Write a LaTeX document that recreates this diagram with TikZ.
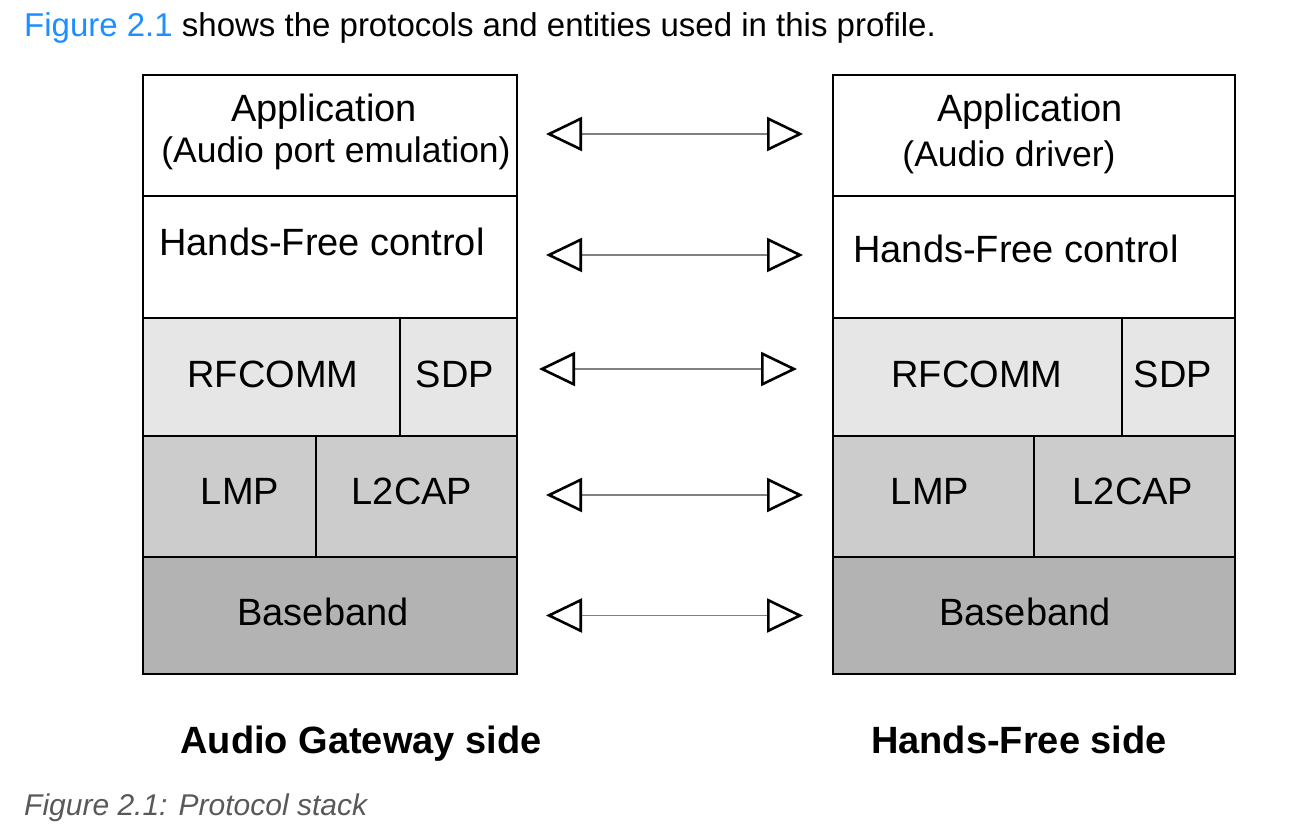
\documentclass[tikz,border=0pt]{standalone}
\usepackage{fontspec}
\setmainfont{Liberation Sans}
\usepackage{xcolor}
\usepackage{tikz}
\usetikzlibrary{arrows.meta,positioning}
\definecolor{rfgray}{HTML}{E6E6E6}
\definecolor{lmpgray}{HTML}{CCCCCC}
\definecolor{bbgray}{HTML}{B3B3B3}
\definecolor{linkblue}{HTML}{1E8FFF}
\definecolor{capgray}{HTML}{595959}
\tikzset{
  cell/.style={draw=black,line width=2pt,inner sep=0pt,anchor=north west},
  big/.style={inner sep=0pt,anchor=base,font=\fontsize{38}{40}\selectfont},
  small/.style={inner sep=0pt,anchor=base,font=\fontsize{35.5}{38}\selectfont},
  side/.style={inner sep=0pt,anchor=base,font=\fontsize{38}{40}\selectfont\bfseries},
  peer/.style={draw=gray,line width=1.2pt,
    {Triangle[open,length=36pt,width=34pt,line width=2.6pt,color=black]}-{Triangle[open,length=36pt,width=34pt,line width=2.6pt,color=black]}}
}

\begin{document}
\begin{tikzpicture}[x=1pt,y=-1pt]
        \useasboundingbox (0,0) rectangle (1298,834);
        \node[inner sep=0pt,anchor=base west,font=\fontsize{33}{36}\selectfont] (intro) at (24,37)
          {\textcolor{linkblue}{Figure 2.1} shows the protocols and entities used in this profile.};
        \node[cell,minimum width=374,minimum height=121] (agapp) at (142,74) {};
        \node[cell,minimum width=374,minimum height=122] (aghf) at (142,195) {};
        \node[cell,fill=rfgray,minimum width=257,minimum height=118] (agrf) at (142,317) {};
        \node[cell,fill=rfgray,minimum width=117,minimum height=118] (agsdp) at (399,317) {};
        \node[cell,fill=lmpgray,minimum width=173,minimum height=121] (aglmp) at (142,435) {};
        \node[cell,fill=lmpgray,minimum width=201,minimum height=121] (agl2cap) at (315,435) {};
        \node[cell,fill=bbgray,minimum width=374,minimum height=117] (agbb) at (142,556) {};
        \node[cell,minimum width=402,minimum height=121] (hfapp) at (832,74) {};
        \node[cell,minimum width=402,minimum height=122] (hfhf) at (832,195) {};
        \node[cell,fill=rfgray,minimum width=289,minimum height=118] (hfrf) at (832,317) {};
        \node[cell,fill=rfgray,minimum width=113,minimum height=118] (hfsdp) at (1121,317) {};
        \node[cell,fill=lmpgray,minimum width=201,minimum height=121] (hflmp) at (832,435) {};
        \node[cell,fill=lmpgray,minimum width=201,minimum height=121] (hfl2cap) at (1033,435) {};
        \node[cell,fill=bbgray,minimum width=402,minimum height=117] (hfbb) at (832,556) {};
        \node[big] (agapptxt) at (324,122) {Application};
        \node[small] (agappsub) at (336,163) {(Audio port emulation)};
        \node[big] (aghftxt) at (322,256) {Hands-Free control};
        \node[big] (agrftxt) at (273,387) {RFCOMM};
        \node[big] (agsdptxt) at (455,387) {SDP};
        \node[big] (aglmptxt) at (240,504) {LMP};
        \node[big] (agl2captxt) at (412,504) {L2CAP};
        \node[big] (agbbtxt) at (323,625) {Baseband};
        \node[big] (hfapptxt) at (1030,122) {Application};
        \node[small] (hfappsub) at (1009,167) {(Audio driver)};
        \node[big] (hfhftxt) at (1016,263) {Hands-Free control};
        \node[big] (hfrftxt) at (977,387) {RFCOMM};
        \node[big] (hfsdptxt) at (1173,387) {SDP};
        \node[big] (hflmptxt) at (930,504) {LMP};
        \node[big] (hfl2captxt) at (1133,504) {L2CAP};
        \node[big] (hfbbtxt) at (1025,625) {Baseband};
        \draw[peer] ([xshift=28pt,yshift=1.5pt]agapp.east)--([xshift=-29pt,yshift=1.5pt]hfapp.west);
        \draw[peer] ([xshift=28pt,yshift=2pt]aghf.east)--([xshift=-29pt,yshift=2pt]hfhf.west);
        \draw[peer] ([xshift=21pt,yshift=8pt]agsdp.east)--([xshift=-35pt,yshift=8pt]hfrf.west);
        \draw[peer] ([xshift=28pt,yshift=1.5pt]agl2cap.east)--([xshift=-29pt,yshift=1.5pt]hflmp.west);
        \draw[peer] ([xshift=28pt]agbb.east)--([xshift=-29pt]hfbb.west);
        \node[side] (agside) at (361,753) {Audio Gateway side};
        \node[side] (hfside) at (1019,753) {Hands-Free side};
        \node[inner sep=0pt,anchor=base west,text=capgray,font=\fontsize{30}{33}\selectfont\itshape] (caption) at (24,815)
          {Figure 2.1: Protocol stack};
      \end{tikzpicture}
\end{document}
